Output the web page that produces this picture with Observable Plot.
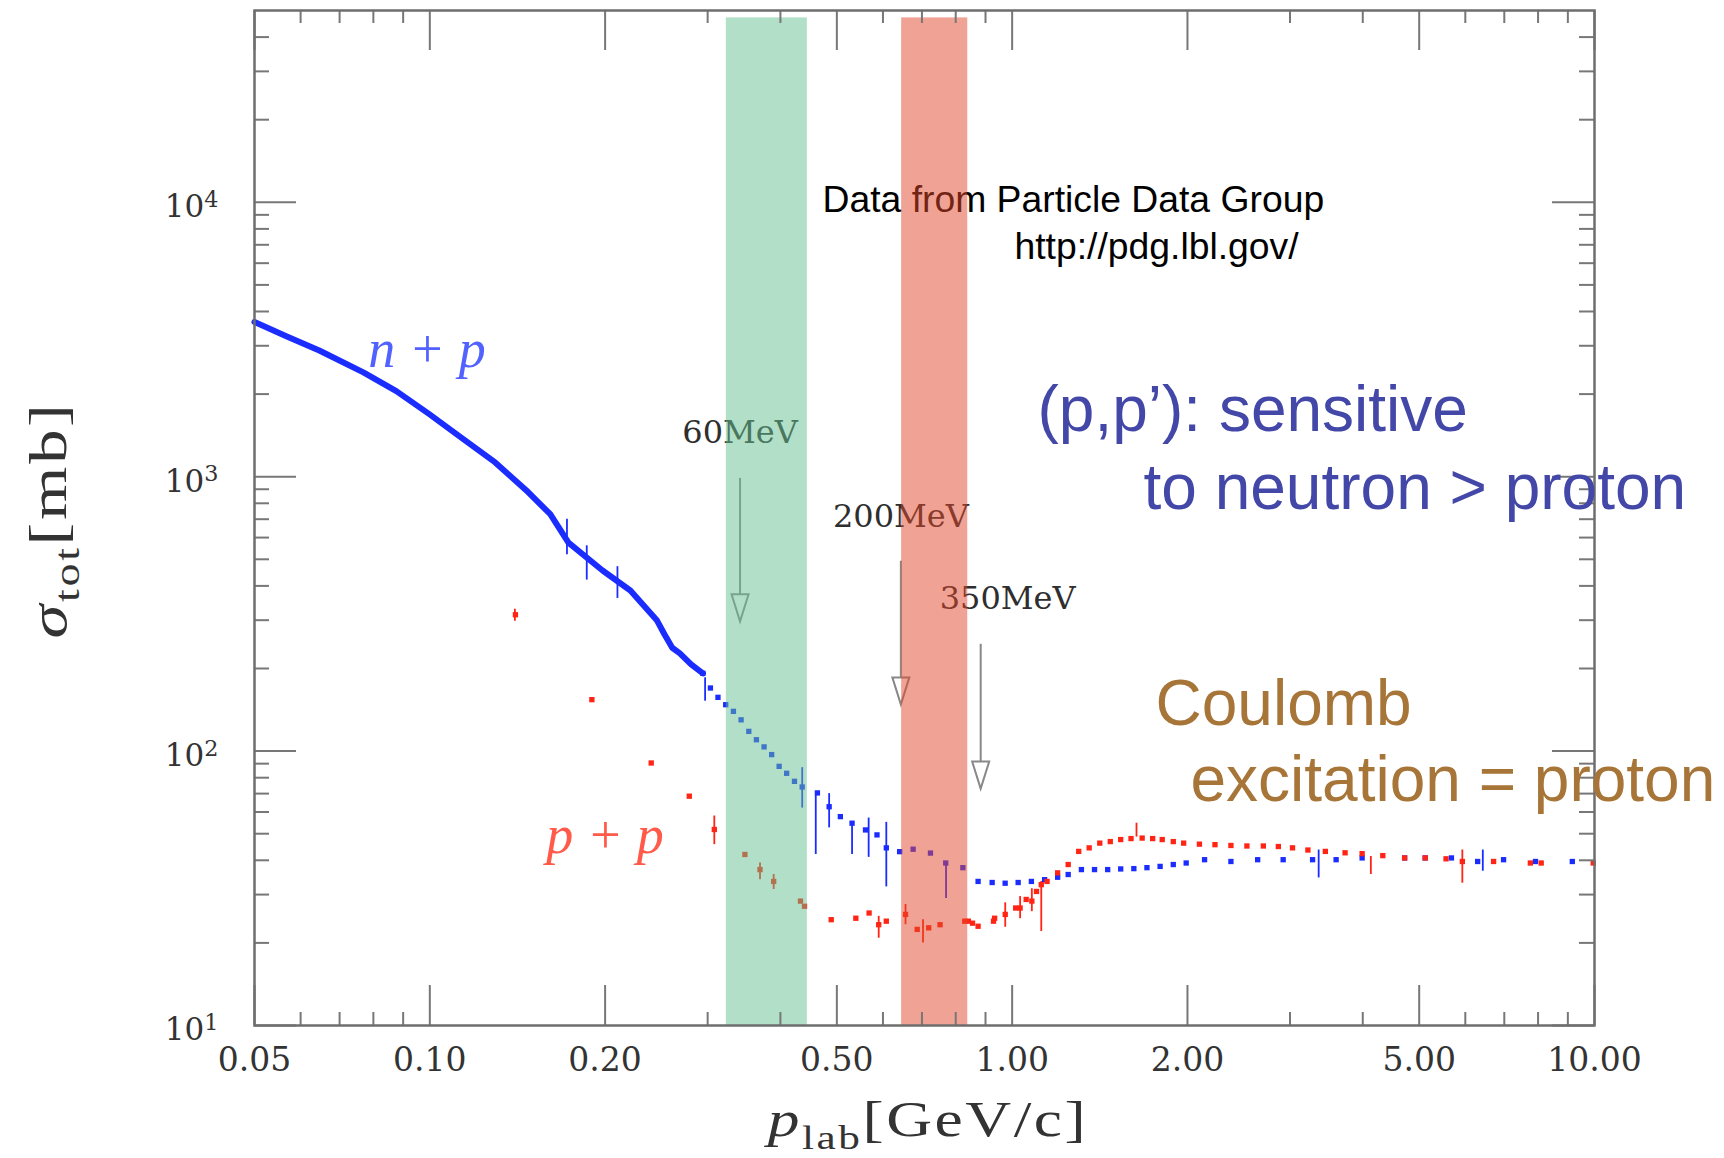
<!DOCTYPE html>
<html><head><meta charset="utf-8">
<script src="https://cdn.jsdelivr.net/npm/d3@7"></script>
<script src="https://cdn.jsdelivr.net/npm/@observablehq/plot@0.6"></script>
<style>
html,body{margin:0;padding:0;background:#fff;}
#chart{width:1724px;height:1158px;overflow:hidden;}
</style></head>
<body><div id="chart"></div>
<script>
// ---------------- data ----------------
// n+p total cross section (blue): dense low-momentum part drawn as a thick line
const npLineX = [0.050, 0.0567, 0.0646, 0.0769, 0.0876, 0.0998, 0.1137, 0.1295, 0.1475, 0.161, 0.173, 0.198, 0.221, 0.2456, 0.253, 0.2608, 0.2688, 0.281, 0.2944];
const npLineY = [3664, 3251, 2884, 2399, 2051, 1690, 1380, 1127, 879, 730, 575, 455, 385, 299, 266, 238, 227, 207, 192];
// n+p individual points
const npX = [0.2944, 0.3033, 0.3125, 0.3222, 0.3322, 0.3424, 0.353, 0.3638, 0.375, 0.3864, 0.398, 0.41, 0.4229, 0.436, 0.463, 0.485, 0.507, 0.531, 0.56, 0.586, 0.608, 0.641, 0.676, 0.724, 0.769, 0.823, 0.874, 0.924, 0.9727, 1.024, 1.079, 1.137, 1.197, 1.248, 1.315, 1.385, 1.459, 1.536, 1.618, 1.704, 1.795, 1.891, 1.99, 2.14, 2.375, 2.64, 2.92, 3.28, 3.6, 3.99, 4.72, 5.12, 5.68, 6.3, 6.98, 7.92, 9.16];
const npY = [192, 169.8, 157, 147.6, 139.6, 130, 118, 110, 103.6, 97.1, 88, 83, 77.6, 74, 70.4, 62.7, 57.7, 54.6, 51.6, 49.5, 44.4, 43, 43.9, 42.5, 39.1, 37.6, 33.5, 33.2, 33.0, 33.2, 33.5, 34.0, 34.7, 35.5, 37.0, 37.0, 37.0, 37.2, 37.3, 37.6, 38.0, 38.6, 39.1, 40.2, 39.6, 40.2, 40.2, 40.2, 40.2, 40.8, 40.8, 40.8, 40.8, 39.6, 40.2, 39.6, 39.6];
// n+p error bars: momentum, low, high
const npErrX  = [0.172, 0.186, 0.21, 0.297, 0.436, 0.46, 0.485, 0.531, 0.567, 0.608, 0.77, 3.36, 6.43];
const npErrLo = [520, 420, 360, 152, 62, 42, 52.5, 42, 41, 32, 29, 34.5, 36.5];
const npErrHi = [700, 560, 470, 185, 87, 69, 70, 54, 57, 55, 39, 43.6, 43.6];

// p+p total cross section (red)
const ppX = [0.1403, 0.1898, 0.24, 0.279, 0.308, 0.3476, 0.369, 0.3895, 0.433, 0.44, 0.489, 0.539, 0.568, 0.590, 0.608, 0.656, 0.687, 0.719, 0.752, 0.829, 0.841, 0.855, 0.874, 0.929, 0.933, 0.973, 1.014, 1.032, 1.057, 1.081, 1.101, 1.122, 1.148, 1.197, 1.248, 1.301, 1.356, 1.414, 1.474, 1.536, 1.6, 1.672, 1.743, 1.81, 1.891, 1.97, 2.097, 2.23, 2.375, 2.53, 2.70, 2.865, 3.03, 3.22, 3.45, 3.73, 3.99, 4.33, 4.72, 5.12, 5.56, 5.93, 6.71, 7.76, 8.1, 9.95];
const ppY = [314, 154, 90.5, 68.5, 51.8, 42.0, 37.0, 33.5, 28.4, 27.2, 24.3, 24.6, 25.7, 23.3, 24.0, 25.4, 22.4, 22.7, 23.3, 24.0, 24.0, 23.6, 23.0, 24.0, 24.6, 25.4, 26.8, 26.8, 28.8, 28.4, 30.8, 32.6, 33.5, 36.0, 38.6, 43.1, 44.4, 46.2, 46.8, 47.6, 48.0, 48.2, 48.0, 47.6, 46.8, 46.2, 45.8, 45.6, 45.3, 45.1, 45.1, 44.9, 44.4, 43.6, 43.1, 42.6, 42.3, 41.6, 40.8, 40.8, 40.5, 39.6, 39.6, 39.1, 39.1, 39.1];
const ppErrX  = [0.14, 0.308, 0.369, 0.3895, 0.59, 0.656, 0.703, 0.973, 1.032, 1.081, 1.122, 1.635, 4.13, 5.93];
const ppErrLo = [297, 45.6, 34, 31.3, 20.8, 23.3, 20, 22.8, 24.5, 26, 22, 48.6, 35.5, 33];
const ppErrHi = [329, 58, 39.1, 35.5, 25, 27.6, 24.3, 28, 29.5, 31.5, 33.5, 54.6, 41.3, 43.6];

// beam-energy arrows
const arrowLabels = ["60MeV", "200MeV", "350MeV"];
const arrowP   = [0.341, 0.644, 0.883];   // GeV/c
const arrowTop = [986, 492, 245];         // mb
const arrowTip = [297, 148, 73];          // mb
const labelY   = [1323, 654, 329];        // mb (text baseline)
const labelShift = [0, 0, 27];            // label offset to the right of the arrow

// highlighted momentum bands
const bandName = ["green", "salmon"];
const bandLo = [0.323, 0.646];
const bandHi = [0.445, 0.839];
const bandTop = 47000;

// axis ticks
const xMajor = [0.05, 0.1, 0.2, 0.5, 1, 2, 5, 10];
const xMinor = [0.06, 0.07, 0.08, 0.09, 0.3, 0.4, 0.6, 0.7, 0.8, 0.9, 3, 4, 6, 7, 8, 9];
const yMajor = [10, 100, 1000, 10000];
const yMinor = [20, 30, 40, 50, 60, 70, 80, 90, 200, 300, 400, 500, 600, 700, 800, 900, 2000, 3000, 4000, 5000, 6000, 7000, 8000, 9000, 20000, 30000, 40000];

// ---------------- build tables ----------------
const npLine = npLineX.map((x, i) => ({x, y: npLineY[i]}));
const np = npX.map((x, i) => ({x, y: npY[i]}));
const pp = ppX.map((x, i) => ({x, y: ppY[i]}));
const npErr = npErrX.map((x, i) => ({x, lo: npErrLo[i], hi: npErrHi[i]}));
const ppErr = ppErrX.map((x, i) => ({x, lo: ppErrLo[i], hi: ppErrHi[i]}));
const arrows = arrowLabels.map((t, i) => ({t, p: arrowP[i], top: arrowTop[i], tip: arrowTip[i], ly: labelY[i], dx: labelShift[i]}));
const bands = bandName.map((n, i) => ({n, lo: bandLo[i], hi: bandHi[i]}));

// ---------------- layout ----------------
const W = 1724, H = 1158, mL = 254, mR = 130, mT = 10, mB = 133;
const innerW = W - mL - mR, innerH = H - mT - mB;
const BLUE = "#1b2cff", RED = "#ff2414", TICK = "#777", SERIF = "DejaVu Serif";

const head = {draw(ctx) { const w = 8.5, h = 27; ctx.moveTo(0, 0); ctx.lineTo(-w, -h); ctx.lineTo(w, -h); ctx.closePath(); }};

function note(str, px, py, o) {
  return Plot.text([str], {frameAnchor: "top-left", dx: px - mL, dy: py - mT, text: d => d,
    textAnchor: "start", lineAnchor: "bottom", ...o});
}

const plot = Plot.plot({
  width: W, height: H, marginLeft: mL, marginRight: mR, marginTop: mT, marginBottom: mB,
  x: {type: "log", domain: [0.05, 10], axis: null},
  y: {type: "log", domain: [10, 50000], axis: null},
  style: {fontFamily: SERIF, fontSize: "31px", color: "#333", background: "white", overflow: "visible"},
  marks: [
    // arrows and energy labels
    ...arrows.map(a => Plot.text([a], {x: "p", y: "ly", text: "t", lineAnchor: "bottom", fontSize: 32,
      fontFamily: SERIF, fill: "#2e2e2e", dx: a.dx})),
    Plot.ruleX(arrows, {x: "p", y1: "top", y2: "tip", stroke: "#888", strokeWidth: 2}),
    Plot.dot(arrows, {x: "p", y: "tip", symbol: head, r: 5, fill: "white", stroke: "#888", strokeWidth: 2}),
    note("Data from Particle Data Group", 822, 211, {fontSize: 37.3, fontFamily: "Liberation Sans", fill: "#000"}),
    note("http://pdg.lbl.gov/", 1014, 258, {fontSize: 37.3, fontFamily: "Liberation Sans", fill: "#000"}),
    // data
    Plot.ruleX(npErr, {x: "x", y1: "lo", y2: "hi", stroke: BLUE, strokeWidth: 1.8}),
    Plot.ruleX(ppErr, {x: "x", y1: "lo", y2: "hi", stroke: RED, strokeWidth: 1.8}),
    Plot.line(npLine, {x: "x", y: "y", stroke: BLUE, strokeWidth: 6, curve: "linear"}),
    Plot.dot(np, {x: "x", y: "y", symbol: "square", r: 3, fill: BLUE}),
    Plot.dot(pp, {x: "x", y: "y", symbol: "square", r: 3, fill: RED}),
    Plot.text(["n + p"], {x: 0.0784, y: 2505, text: d => d, textAnchor: "start", lineAnchor: "bottom",
      fontSize: 54, fontFamily: "Liberation Serif", fontStyle: "italic", fill: "#5262ff"}),
    Plot.text(["p + p"], {x: 0.1585, y: 42.4, text: d => d, textAnchor: "start", lineAnchor: "bottom",
      fontSize: 54, fontFamily: "Liberation Serif", fontStyle: "italic", fill: "#ff5a4a"}),
    // translucent bands on top
    Plot.rect(bands, {x1: "lo", x2: "hi", y1: 10, y2: bandTop,
      fill: d => d.n === "green" ? "rgb(101,191,143)" : "rgb(225,71,41)", fillOpacity: 0.5}),
    // inward ticks on all four sides
    Plot.tickX(xMajor, {insetTop: innerH - 40, stroke: TICK, strokeWidth: 2}),
    Plot.tickX(xMinor, {insetTop: innerH - 13, stroke: TICK, strokeWidth: 2}),
    Plot.tickX(xMajor, {insetBottom: innerH - 40, stroke: TICK, strokeWidth: 2}),
    Plot.tickX(xMinor, {insetBottom: innerH - 13, stroke: TICK, strokeWidth: 2}),
    Plot.tickY(yMajor, {insetRight: innerW - 42, stroke: TICK, strokeWidth: 2}),
    Plot.tickY(yMinor, {insetRight: innerW - 15, stroke: TICK, strokeWidth: 2}),
    Plot.tickY(yMajor, {insetLeft: innerW - 42, stroke: TICK, strokeWidth: 2}),
    Plot.tickY(yMinor, {insetLeft: innerW - 15, stroke: TICK, strokeWidth: 2}),
    Plot.frame({stroke: "#6e6e6e", strokeWidth: 2.5}),
    // tick labels
    Plot.text(xMajor, {x: d => d, frameAnchor: "bottom", dy: 22, lineAnchor: "top",
      text: d => d.toFixed(2), fontSize: 33, fontFamily: SERIF, fill: "#333"}),
    Plot.text(yMajor, {y: d => d, frameAnchor: "left", dx: -36, dy: 5, textAnchor: "end",
      text: d => "10|" + Math.round(Math.log10(d)), fontSize: 31, fontFamily: SERIF, fill: "#333"}),
    // slide annotations
    note("(p,p\u2019): sensitive", 1037, 430, {fontSize: 64, fontFamily: "Liberation Sans", fill: "#4347a8"}),
    note("to neutron > proton", 1143, 508, {fontSize: 64, fontFamily: "Liberation Sans", fill: "#4347a8"}),
    note("Coulomb", 1155, 724, {fontSize: 64, fontFamily: "Liberation Sans", fill: "#a77538"}),
    note("excitation = proton", 1190, 800, {fontSize: 64, fontFamily: "Liberation Sans", fill: "#a77538"})
  ]
});

document.getElementById("chart").appendChild(plot);
const svg = d3.select(plot);

// superscripts on y tick labels
svg.selectAll("text").filter(function() { return this.textContent.includes("|"); }).each(function() {
  const t = d3.select(this);
  const parts = t.text().split("|");
  t.text(parts[0]);
  t.append("tspan").attr("dy", "-0.47em").attr("font-size", "0.72em").text(parts[1]);
});

// axis titles (wide Computer-Modern-like lettering)
const xg = svg.append("g").attr("transform", "translate(928,1136) scale(1.27,1)");
const xt = xg.append("text").attr("text-anchor", "middle")
  .attr("font-family", "Liberation Serif").attr("font-size", 50).attr("fill", "#333").attr("letter-spacing", 2);
xt.append("tspan").attr("font-style", "italic").text("p");
xt.append("tspan").attr("font-size", 34).attr("dy", 13).text("lab");
xt.append("tspan").attr("dy", -13).text("[GeV/c]");

const yg = svg.append("g").attr("transform", "translate(66,520) rotate(-90) scale(1.32,1)");
const yt = yg.append("text").attr("text-anchor", "middle")
  .attr("font-family", "Liberation Serif").attr("font-size", 52).attr("fill", "#333").attr("letter-spacing", 2);
yt.append("tspan").attr("font-style", "italic").text("σ");
yt.append("tspan").attr("font-size", 35).attr("dy", 13).text("tot");
yt.append("tspan").attr("dy", -13).text("[mb]");
</script>
</body></html>
